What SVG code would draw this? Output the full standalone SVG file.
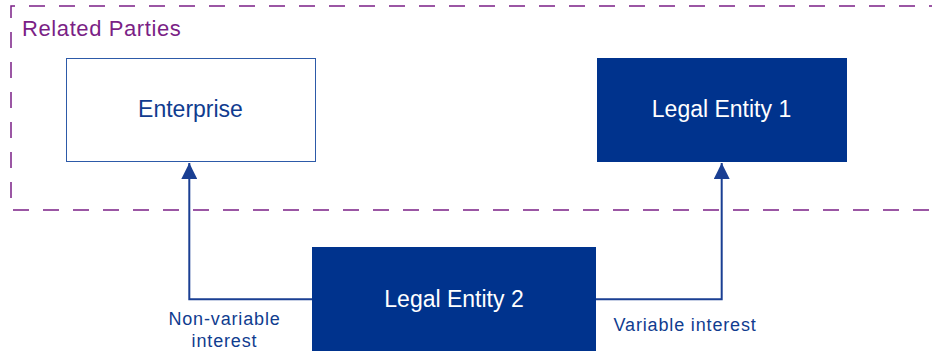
<svg xmlns="http://www.w3.org/2000/svg" width="932" height="351" viewBox="0 0 932 351">
<defs>
<style>
.big{font-family:"Liberation Sans",Arial,sans-serif;font-size:23px;text-anchor:middle}
.lbl{font-family:"Liberation Sans",Arial,sans-serif;font-size:18px;fill:#103C8F;letter-spacing:0.85px}
.dark{fill:#00338D}
.conn{fill:none;stroke:#1A3F93;stroke-width:2}
</style>
<marker id="arr" markerWidth="16" markerHeight="16" refX="16" refY="8" orient="auto" markerUnits="userSpaceOnUse">
<path d="M0,0 L16,8 L0,16 Z" fill="#1A3F93"/>
</marker>
</defs>
<rect width="932" height="351" fill="#fff"/>
<g id="related-parties">
<path d="M945,6 H11 V210 H945" fill="none" stroke="#7B1F86" stroke-width="1.5" stroke-dasharray="16,14"/>
<text x="22" y="35.5" font-family="'Liberation Sans',Arial,sans-serif" font-size="22" fill="#7B1F86" letter-spacing="0.6">Related Parties</text>
</g>
<g id="enterprise">
<rect x="66.5" y="58.5" width="249" height="103" fill="#fff" stroke="#2D5AA8" stroke-width="1"/>
<text class="big" x="190.5" y="117" fill="#103C8F">Enterprise</text>
</g>
<g id="legal-entity-1">
<rect class="dark" x="597" y="58" width="250" height="104"/>
<text class="big" x="721.5" y="117" fill="#fff">Legal Entity 1</text>
</g>
<g id="legal-entity-2">
<rect class="dark" x="312" y="247" width="284" height="110"/>
<text class="big" x="454" y="307" fill="#fff">Legal Entity 2</text>
</g>
<g id="connectors">
<path class="conn" d="M312,299.3 H189.3 V163" marker-end="url(#arr)"/>
<path class="conn" d="M596,299.3 H721.7 V163" marker-end="url(#arr)"/>
<text class="lbl" x="224.5" y="325" text-anchor="middle">Non-variable</text>
<text class="lbl" x="224.5" y="347" text-anchor="middle">interest</text>
<text class="lbl" x="613.5" y="331">Variable interest</text>
</g>
</svg>
